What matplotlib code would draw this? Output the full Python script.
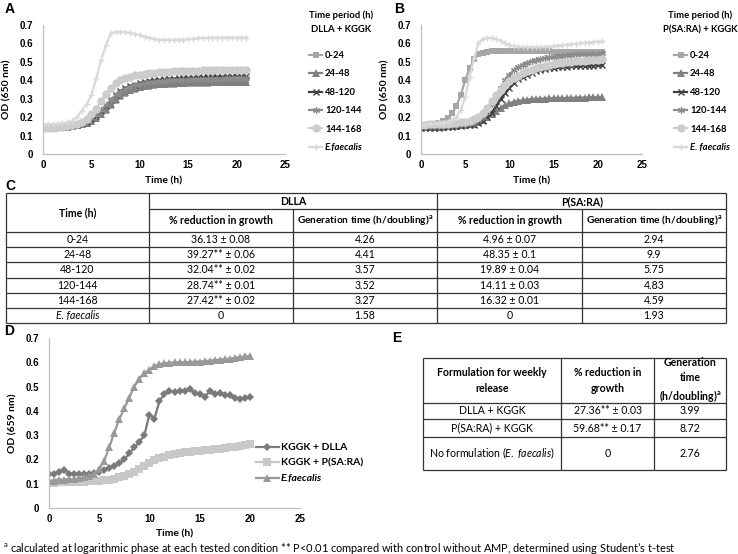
import numpy as np
import matplotlib
matplotlib.use("Agg")
import matplotlib.pyplot as plt

plt.rcParams['font.family'] = ['Lato', 'DejaVu Sans']
plt.rcParams['mathtext.fontset'] = 'custom'
plt.rcParams['mathtext.rm'] = 'Lato'
plt.rcParams['mathtext.it'] = 'Lato:italic'
plt.rcParams['mathtext.bf'] = 'Lato:bold'

# ---------------- data ----------------
time_A = np.arange(0, 21.01, 0.5)
A_0_24 = [.140, .140, .141, .142, .144, .146, .149, .153, .158, .165, .175, .190, .210, .235, .262, .288, .310, .327, .340, .350, .357, .362, .366, .369, .372, .374, .376, .377, .378, .379, .380, .381, .381, .382, .382, .383, .383, .383, .384, .384, .384, .384, .384]
A_24_48 = [.142, .142, .143, .144, .146, .148, .151, .155, .161, .169, .180, .196, .218, .245, .272, .298, .320, .337, .350, .359, .366, .371, .375, .378, .380, .382, .384, .385, .386, .387, .388, .389, .389, .390, .390, .391, .391, .391, .392, .392, .392, .392, .392]
A_48_120 = [.145, .145, .146, .147, .149, .151, .155, .160, .167, .176, .189, .207, .232, .262, .292, .318, .340, .356, .368, .377, .384, .390, .395, .399, .402, .405, .407, .409, .411, .413, .414, .415, .416, .417, .418, .419, .420, .420, .421, .421, .422, .422, .422]
A_120_144 = [.148, .148, .149, .150, .152, .154, .158, .163, .170, .180, .193, .212, .237, .266, .294, .318, .337, .352, .363, .372, .379, .384, .389, .392, .395, .397, .399, .401, .402, .403, .404, .405, .406, .407, .408, .408, .409, .409, .410, .410, .410, .410, .410]
A_144_168 = [.140, .141, .142, .144, .147, .151, .157, .165, .176, .192, .215, .245, .285, .325, .358, .383, .400, .412, .420, .426, .431, .435, .438, .441, .443, .445, .447, .448, .449, .450, .451, .452, .453, .454, .455, .455, .456, .456, .457, .457, .457, .458, .458]
A_efaec = [.160, .161, .163, .165, .168, .172, .180, .200, .235, .270, .320, .410, .510, .590, .655, .662, .662, .660, .657, .652, .645, .637, .630, .625, .621, .620, .620, .620, .620, .621, .623, .625, .627, .629, .630, .631, .632, .632, .632, .632, .632, .632, .632]

time_B = np.arange(0, 20.51, 0.5)
B_0_24 = [.160, .160, .162, .165, .170, .180, .195, .220, .260, .320, .400, .465, .515, .540, .550, .555, .558, .560, .560, .560, .560, .560, .559, .559, .558, .558, .558, .557, .557, .557, .556, .556, .555, .555, .554, .554, .553, .553, .553, .552, .552, .552]
B_24_48 = [.145, .145, .146, .147, .148, .149, .150, .152, .154, .156, .158, .161, .165, .175, .185, .200, .215, .235, .250, .265, .275, .283, .289, .292, .295, .297, .299, .300, .301, .302, .303, .303, .304, .304, .305, .305, .306, .306, .307, .307, .308, .308]
B_48_120 = [.140, .140, .141, .142, .143, .144, .146, .148, .150, .152, .155, .157, .160, .170, .180, .200, .225, .260, .300, .330, .360, .385, .405, .418, .430, .440, .448, .454, .460, .464, .467, .470, .472, .474, .476, .477, .478, .479, .480, .480, .481, .482]
B_120_144 = [.150, .150, .151, .152, .153, .154, .156, .158, .160, .162, .164, .167, .170, .185, .200, .230, .270, .310, .360, .400, .430, .455, .470, .485, .495, .503, .510, .515, .520, .524, .527, .530, .533, .536, .538, .540, .541, .542, .543, .544, .545, .546]
B_144_168 = [.160, .160, .161, .162, .163, .164, .165, .167, .169, .172, .175, .181, .190, .203, .220, .250, .285, .320, .350, .375, .395, .410, .425, .438, .450, .458, .465, .472, .478, .483, .488, .492, .495, .498, .501, .503, .505, .507, .509, .511, .512, .513]
B_efaec = [.160, .160, .161, .163, .166, .170, .176, .185, .200, .240, .310, .420, .520, .600, .625, .630, .630, .625, .615, .600, .590, .585, .582, .580, .580, .580, .580, .580, .580, .583, .585, .588, .590, .593, .595, .598, .600, .603, .605, .608, .610, .612]

time_D = np.arange(0, 20.01, 0.5)
D_dlla = [.140, .138, .150, .158, .142, .140, .138, .140, .142, .144, .150, .155, .165, .172, .185, .200, .225, .250, .272, .300, .385, .368, .440, .470, .480, .478, .482, .480, .490, .475, .470, .458, .480, .470, .475, .466, .464, .455, .450, .455, .457]
D_psara = [.105, .105, .106, .106, .107, .108, .108, .109, .110, .111, .112, .114, .116, .120, .126, .132, .140, .150, .160, .172, .186, .196, .205, .212, .218, .222, .226, .229, .232, .234, .236, .238, .240, .242, .245, .247, .250, .252, .256, .260, .265]
D_efaec = [.110, .112, .114, .116, .118, .120, .122, .126, .132, .140, .160, .195, .250, .310, .365, .410, .455, .500, .532, .555, .570, .585, .592, .596, .598, .600, .600, .600, .601, .602, .603, .605, .607, .609, .611, .613, .615, .618, .621, .624, .626]

legend_AB = ["0-24", "24-48", "48-120", "120-144", "144-168"]
legend_D = ["KGGK + DLLA", "KGGK + P(SA:RA)", "E.faecalis"]
x_ticks = [0, 5, 10, 15, 20, 25]
y_ticks = [0, 0.1, 0.2, 0.3, 0.4, 0.5, 0.6, 0.7]
y_ticklabels = ["0", "0.1", "0.2", "0.3", "0.4", "0.5", "0.6", "0.7"]

# table C
c_time = ["0-24", "24-48", "48-120", "120-144", "144-168", "E. faecalis"]
c_dlla_red = ["36.13 ± 0.08", "39.27** ± 0.06", "32.04** ± 0.02", "28.74** ± 0.01", "27.42** ± 0.02", "0"]
c_dlla_gen = ["4.26", "4.41", "3.57", "3.52", "3.27", "1.58"]
c_psara_red = ["4.96 ± 0.07", "48.35 ± 0.1", "19.89 ± 0.04", "14.11 ± 0.03", "16.32 ± 0.01", "0"]
c_psara_gen = ["2.94", "9.9", "5.75", "4.83", "4.59", "1.93"]

# table E
e_form = ["DLLA + KGGK", "P(SA:RA) + KGGK", r"No formulation ($\mathit{E.\ faecalis}$)"]
e_red = ["27.36** ± 0.03", "59.68** ± 0.17", "0"]
e_gen = ["3.99", "8.72", "2.76"]

# ---------------- figure ----------------
W, H = 738, 554
fig = plt.figure(figsize=(W / 100, H / 100), dpi=100)


def ax_at(l, t, r, b):
    return fig.add_axes([l / W, 1 - b / H, (r - l) / W, (b - t) / H])


def style(ax, ylabel, xlim=25):
    ax.set_xlim(0, xlim)
    ax.set_ylim(0, 0.7)
    ax.set_xticks(x_ticks, [str(v) for v in x_ticks])
    ax.set_yticks(y_ticks, y_ticklabels)
    for s in ['top', 'right']:
        ax.spines[s].set_visible(False)
    for s in ['left', 'bottom']:
        ax.spines[s].set_color('#bfbfbf')
        ax.spines[s].set_linewidth(0.9)
    ax.tick_params(length=0, labelsize=7)
    ax.tick_params(axis='y', pad=7)
    ax.tick_params(axis='x', pad=4)
    for lb in ax.get_xticklabels() + ax.get_yticklabels():
        lb.set_fontfamily('Liberation Sans')
        lb.set_fontweight('bold')
    ax.set_xlabel("Time (h)", fontsize=7.5, fontweight='bold', labelpad=5)
    ax.set_ylabel(ylabel, fontsize=7.5, fontweight='bold', labelpad=6)
    ax.patch.set_alpha(0)


styles_AB = [
    dict(color='#a6a6a6', marker='s', ms=5, mew=0),
    dict(color='#808080', marker='^', ms=5.5, mew=0),
    dict(color='#404040', marker='x', ms=4.5, mew=1.0),
    dict(color='#8c8c8c', marker=(6, 2, 0), ms=5, mew=0.9),
    dict(color='#cccccc', marker='o', ms=6, mew=0),
    dict(color='#d9d9d9', marker='+', ms=5, mew=1.0),
]

LEG_FS = 6.8


def plot_panel(ax, t, series, labels, leg_x, title1, title2, title_x):
    handles = []
    for y, st in zip(series, styles_AB):
        h, = ax.plot(t, y, color=st['color'], marker=st['marker'], ms=st['ms'],
                     mew=st['mew'], mec=st['color'], mfc=st['color'], lw=1.6)
        handles.append(h)
    leg = ax.legend(handles, labels, loc='upper left',
                    bbox_to_anchor=(leg_x / W, 1 - 51 / H), bbox_transform=fig.transFigure,
                    frameon=False, prop={'weight': 'bold', 'size': LEG_FS},
                    handlelength=1.4, handletextpad=0.3, labelspacing=1.0,
                    borderpad=0, borderaxespad=0)
    leg.get_texts()[-1].set_style('italic')
    fig.text(title_x / W, 1 - 15 / H, title1, ha='center', va='center',
             fontsize=LEG_FS, fontweight='bold')
    fig.text(title_x / W, 1 - 30 / H, title2, ha='center', va='center',
             fontsize=LEG_FS, fontweight='bold')


axA = ax_at(43, 25, 285, 154)
style(axA, "OD (650 nm)")
plot_panel(axA, time_A, [A_0_24, A_24_48, A_48_120, A_120_144, A_144_168, A_efaec],
           legend_AB + ["E.faecalis"], 309, "Time period (h)", "DLLA + KGGK", 341)

axB = ax_at(421, 25, 642, 154)
style(axB, "OD (650 nm)")
plot_panel(axB, time_B, [B_0_24, B_24_48, B_48_120, B_120_144, B_144_168, B_efaec],
           legend_AB + ["E. faecalis"], 674, "Time period (h)", "P(SA:RA) + KGGK", 700)

axD = ax_at(49, 338, 300, 508)
style(axD, "OD (659 nm)")
axD.xaxis.labelpad = 4
hD = []
for y, c, m, ms in [(D_dlla, '#7a7a7a', 'D', 4.5), (D_psara, '#c8c8c8', 's', 5.5), (D_efaec, '#999999', '^', 6)]:
    h, = axD.plot(time_D, y, color=c, marker=m, ms=ms, mew=0, lw=1.6)
    hD.append(h)
legD = axD.legend(hD, legend_D, loc='upper left', bbox_to_anchor=(256 / W, 1 - 443 / H),
                  bbox_transform=fig.transFigure, frameon=False,
                  prop={'weight': 'bold', 'size': 7.5}, handlelength=2.2,
                  handletextpad=0.2, labelspacing=0.6, borderpad=0, borderaxespad=0)
legD.get_texts()[-1].set_style('italic')

# ---------------- overlay for tables and labels ----------------
tax = fig.add_axes([0, 0, 1, 1])
tax.set_xlim(0, W)
tax.set_ylim(H, 0)
tax.axis('off')

LC = '#333333'
LW = 0.9
FS = 7.6


def hline(y, x0, x1):
    tax.plot([x0, x1], [y, y], color=LC, lw=LW, solid_capstyle='butt')


def vline(x, y0, y1):
    tax.plot([x, x], [y0, y1], color=LC, lw=LW, solid_capstyle='butt')


def txt(x, y, s, bold=False, italic=False, size=FS, **kw):
    tax.text(x, y, s, ha='center', va='center', fontsize=size,
             fontweight='bold' if bold else 'normal',
             style='italic' if italic else 'normal', **kw)


# panel letters
for lx, ly, L in [(10, 9, 'A'), (399, 9, 'B'), (10, 186, 'C'), (9, 331, 'D'), (397, 338, 'E')]:
    tax.text(lx, ly, L, ha='center', va='center', fontsize=10, fontweight='bold',
             family='Liberation Sans')

# table C
cx = [6, 149, 293, 437, 582, 726]
ctop, csub, chdr, cbot = 193, 209, 231.7, 323.3
nrow = len(c_time)
rh = (cbot - chdr) / nrow
hline(ctop, cx[0], cx[-1])
hline(csub, cx[1], cx[-1])
for i in range(nrow + 1):
    hline(chdr + i * rh, cx[0], cx[-1])
for x in [cx[0], cx[1], cx[3], cx[5]]:
    vline(x, ctop, cbot)
for x in [cx[2], cx[4]]:
    vline(x, csub, cbot)
txt((cx[0] + cx[1]) / 2, (ctop + chdr) / 2, "Time (h)", bold=True)
txt(cx[2], (ctop + csub) / 2 + 0.5, "DLLA", bold=True)
txt(cx[4], (ctop + csub) / 2 + 0.5, "P(SA:RA)", bold=True)
gen_hdr = r"Generation time (h/doubling)$^{\mathbf{a}}$"
for k, s in enumerate(["% reduction in growth", gen_hdr, "% reduction in growth", gen_hdr]):
    txt((cx[k + 1] + cx[k + 2]) / 2, (csub + chdr) / 2, s, bold=True,
        size=FS if k % 2 == 0 else 7.3)
for i in range(nrow):
    yc = chdr + (i + 0.5) * rh
    vals = [c_time[i], c_dlla_red[i], c_dlla_gen[i], c_psara_red[i], c_psara_gen[i]]
    for k, s in enumerate(vals):
        txt((cx[k] + cx[k + 1]) / 2, yc, s, italic=(k == 0 and i == nrow - 1))

# table E
ex = [423, 561, 654, 726]
ey = [358, 403, 419, 437, 470]
for y in ey:
    hline(y, ex[0], ex[-1])
for x in ex:
    vline(x, ey[0], ey[-1])
hdrs = ["Formulation for weekly\nrelease", "% reduction in\ngrowth",
        "Generation\ntime\n" + r"(h/doubling)$^{\mathbf{a}}$"]
for k, s in enumerate(hdrs):
    txt((ex[k] + ex[k + 1]) / 2, (ey[0] + ey[1]) / 2, s, bold=True, linespacing=1.45)
for i in range(3):
    yc = (ey[i + 1] + ey[i + 2]) / 2
    for k, s in enumerate([e_form[i], e_red[i], e_gen[i]]):
        txt((ex[k] + ex[k + 1]) / 2, yc, s)

# footnote
tax.text(3, 548, r"$^{\mathrm{a}}$ calculated at logarithmic phase at each tested condition ** P<0.01 "
         "compared with control without AMP, determined using Student\u2019s t-test",
         ha='left', va='center', fontsize=7.9)

fig.savefig("out.png", dpi=100)
